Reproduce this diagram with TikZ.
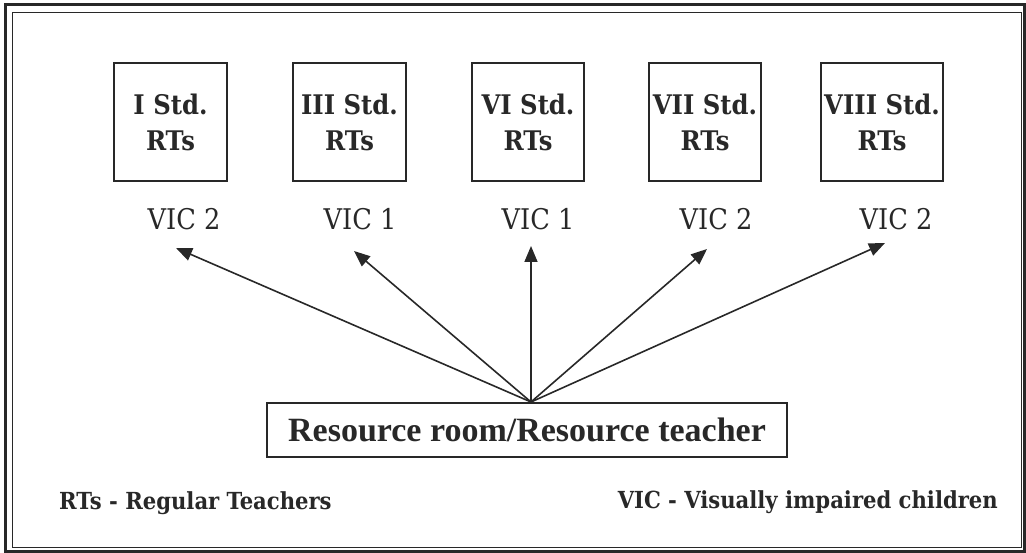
\documentclass[tikz,border=0pt]{standalone}
\usepackage{fontspec}
\newfontfamily\timesfont{Liberation Serif}
\newfontfamily\schfont{DejaVu Serif Condensed}
\usetikzlibrary{arrows.meta}
\definecolor{ink}{RGB}{40,40,40}
\begin{document}
\begin{tikzpicture}[x=1pt,y=-1pt, every node/.style={text=ink},
  stdbox/.style={draw=ink, line width=1.4pt, minimum height=118pt, align=center,
    font=\schfont\bfseries\fontsize{27}{36}\selectfont, inner sep=0pt},
  vic/.style={font=\schfont\fontsize{28.5}{30}\selectfont, anchor=base, inner sep=0pt},
  arr/.style={draw=ink, -{Triangle[length=16pt,width=13pt]}, line width=1.6pt},
  legend/.style={font=\schfont\bfseries\fontsize{23.5}{26}\selectfont, anchor=base, inner sep=0pt},
  resbox/.style={draw=ink, line width=1.6pt, minimum width=520pt, minimum height=54pt,
    font=\timesfont\bfseries\fontsize{34}{36}\selectfont, inner sep=0pt}]
\useasboundingbox (0,0) rectangle (1026,553);
\draw[ink, line width=3pt] (5,5) rectangle (1024,551);
\draw[ink, line width=0.9pt] (12,12) rectangle (1021,547);
% RT boxes
\node[stdbox, minimum width=113pt] (b1) at (170.5,122) {I Std.\\RTs};
\node[stdbox, minimum width=113pt] (b2) at (349.5,122) {III Std.\\RTs};
\node[stdbox, minimum width=112pt] (b3) at (528,122) {VI Std.\\RTs};
\node[stdbox, minimum width=112pt] (b4) at (705,122) {VII Std.\\RTs};
\node[stdbox, minimum width=122pt] (b5) at (882,122) {VIII Std.\\RTs};
% VIC labels
\node[vic] (v1) at (184,230) {VIC 2};
\node[vic] (v2) at (360,230) {VIC 1};
\node[vic] (v3) at (538,230) {VIC 1};
\node[vic] (v4) at (716,230) {VIC 2};
\node[vic] (v5) at (896,230) {VIC 2};
% resource room
\node[resbox] (res) at (527,430) {Resource room/Resource teacher};
\coordinate (src) at (531,402);
\coordinate (t1) at (176,248);
\coordinate (t2) at (354,251);
\coordinate (t3) at (531,246);
\coordinate (t4) at (707,249);
\coordinate (t5) at (885,243);
\foreach \t in {t1,t2,t3,t4,t5} \draw[arr] (src) -- (\t);
% legends
\node[legend, anchor=base west] (lg1) at (59,509) {RTs - Regular Teachers};
\node[legend, anchor=base east] (lg2) at (998,508) {VIC - Visually impaired children};
\end{tikzpicture}
\end{document}
